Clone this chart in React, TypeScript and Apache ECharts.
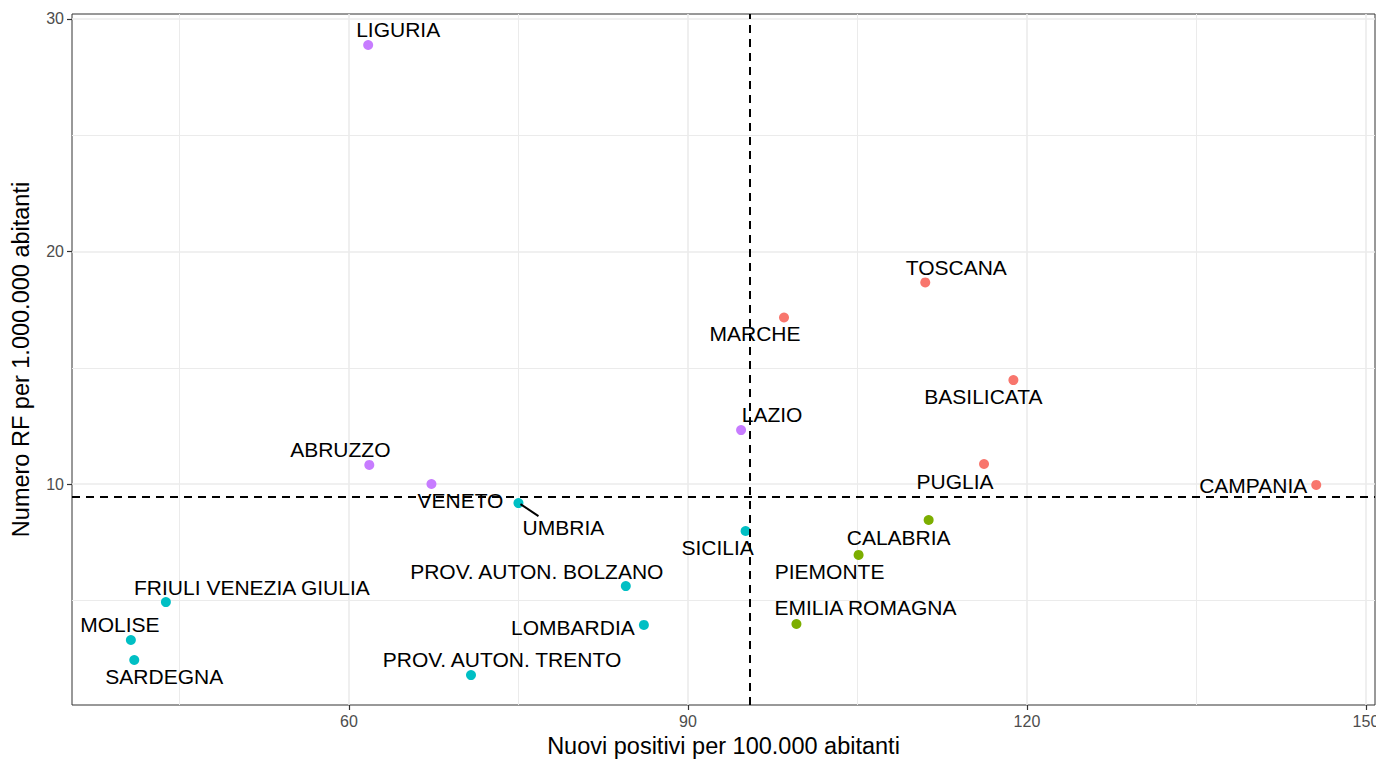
import React, { useEffect, useRef } from "react";
import * as echarts from "echarts";

const regions = [
  "LIGURIA", "TOSCANA", "MARCHE", "BASILICATA", "LAZIO", "ABRUZZO", "VENETO",
  "PUGLIA", "CAMPANIA", "UMBRIA", "SICILIA", "CALABRIA", "PIEMONTE",
  "PROV. AUTON. BOLZANO", "FRIULI VENEZIA GIULIA", "LOMBARDIA", "EMILIA ROMAGNA",
  "MOLISE", "SARDEGNA", "PROV. AUTON. TRENTO",
];
const positivi = [
  61.7, 111.0, 98.5, 118.8, 94.7, 61.8, 67.3,
  116.2, 145.6, 75.0, 95.1, 111.3, 105.1,
  84.5, 43.8, 86.1, 99.6,
  40.7, 41.0, 70.8,
];
const rf = [
  28.88, 18.67, 17.16, 14.47, 12.32, 10.82, 10.0,
  10.86, 9.96, 9.18, 7.98, 8.45, 6.95,
  5.61, 4.92, 3.94, 3.98,
  3.29, 2.43, 1.78,
];
// group: 0 red, 1 green, 2 teal, 3 purple
const groups = [3, 0, 0, 0, 3, 3, 3, 0, 0, 2, 2, 1, 1, 2, 2, 2, 1, 2, 2, 2];
const groupColors = ["#F8766D", "#7CAE00", "#00BFC4", "#C77CFF"];
// label offsets in px relative to the point
const labelOffsets: [number, number][] = [
  [30, -16], [31, -15], [-29, 16], [-30, 16], [31, -16], [-29, -15], [29, 16],
  [-29, 17], [-63, 1], [45, 24], [-28, 17], [-30, 17], [-29, 17],
  [-89, -15], [86, -15], [-71, 3], [69, -16],
  [-11, -16], [30, 16], [31, -16],
];

const xTicks = [60, 90, 120, 150];
const xMinor = [45, 75, 105, 135];
const yTicks = [10, 20, 30];
const yMinor = [5, 15, 25];
const vRef = 95.5;
const hRef = 9.44;

const FONT = "'Liberation Sans', Arial, Helvetica, sans-serif";

export default function App() {
  const ref = useRef<HTMLDivElement>(null);
  useEffect(() => {
    document.body.style.margin = "0";
    const chart = echarts.init(ref.current!, null, { renderer: "svg" });
    const gridLine = (w: number) => ({ color: "#EBEBEB", width: w, type: "solid" as const });
    const option: any = {
      animation: false,
      backgroundColor: "#FFFFFF",
      grid: {
        left: 72, top: 14, right: 1, bottom: 55,
        containLabel: false,
        outerBoundsMode: "none",
        show: true, borderColor: "#333333", borderWidth: 1, backgroundColor: "transparent",
      },
      xAxis: {
        type: "value",
        min: 35.49,
        max: 150.8,
        name: "Nuovi positivi per 100.000 abitanti",
        nameLocation: "middle",
        nameGap: 29,
        nameTextStyle: { fontSize: 23.5, color: "#000", fontFamily: FONT },
        axisLine: { show: false },
        axisTick: { show: true, length: 5, customValues: xTicks, lineStyle: { color: "#333333", width: 1.2 } },
        axisLabel: { customValues: xTicks, fontSize: 16, color: "#4D4D4D", fontFamily: FONT, margin: 8 },
        splitLine: { show: false },
      },
      yAxis: {
        type: "value",
        min: 0.495,
        max: 30.215,
        name: "Numero RF per 1.000.000 abitanti",
        nameLocation: "middle",
        nameGap: 39,
        nameRotate: 90,
        nameTextStyle: { fontSize: 23.5, color: "#000", fontFamily: FONT },
        axisLine: { show: false },
        axisTick: { show: true, length: 5, customValues: yTicks, lineStyle: { color: "#333333", width: 1.2 } },
        axisLabel: { customValues: yTicks, fontSize: 16, color: "#4D4D4D", fontFamily: FONT, margin: 8 },
        splitLine: { show: false },
      },
      series: [
        {
          type: "scatter",
          data: [],
          z: 1,
          silent: true,
          markLine: {
            z: 1,
            silent: true,
            symbol: "none",
            label: { show: false },
            animation: false,
            data: [
              ...xMinor.map((v) => ({ xAxis: v, lineStyle: gridLine(1) })),
              ...yMinor.map((v) => ({ yAxis: v, lineStyle: gridLine(1) })),
              ...xTicks.map((v) => ({ xAxis: v, lineStyle: gridLine(1.6) })),
              ...yTicks.map((v) => ({ yAxis: v, lineStyle: gridLine(1.6) })),
            ],
          },
        },
        {
          type: "scatter",
          z: 3,
          symbolSize: 10,
          data: regions.map((name, i) => ({
            name,
            value: [positivi[i], rf[i]],
            itemStyle: { color: groupColors[groups[i]], opacity: 1 },
            label: {
              show: true,
              position: "inside",
              offset: labelOffsets[i],
              formatter: name,
              color: "#000",
              fontSize: 21,
              fontFamily: FONT,
              align: "center",
              verticalAlign: "middle",
              textBorderWidth: 0,
              textBorderColor: "transparent",
            },
          })),
          emphasis: { disabled: true },
        },
        {
          type: "scatter",
          data: [],
          z: 10,
          silent: true,
          markLine: {
            z: 10,
            silent: true,
            symbol: "none",
            label: { show: false },
            animation: false,
            lineStyle: { color: "#000", width: 2, type: [8, 6] },
            data: [{ xAxis: vRef }, { yAxis: hRef }],
          },
        },
      ],
    };
    chart.setOption(option);
    const ui = regions.indexOf("UMBRIA");
    const p = chart.convertToPixel({ seriesIndex: 1 }, [positivi[ui], rf[ui]]) as number[];
    if (p) {
      chart.setOption({
        graphic: [
          {
            type: "line",
            z: 10,
            shape: { x1: p[0] + 2, y1: p[1] + 1, x2: p[0] + 20, y2: p[1] + 13 },
            style: { stroke: "#000", lineWidth: 2 },
          },
        ],
      });
    }
    return () => chart.dispose();
  }, []);
  return (
    <div
      ref={ref}
      style={{ position: "fixed", left: 0, top: 0, width: 1376, height: 760 }}
    />
  );
}
